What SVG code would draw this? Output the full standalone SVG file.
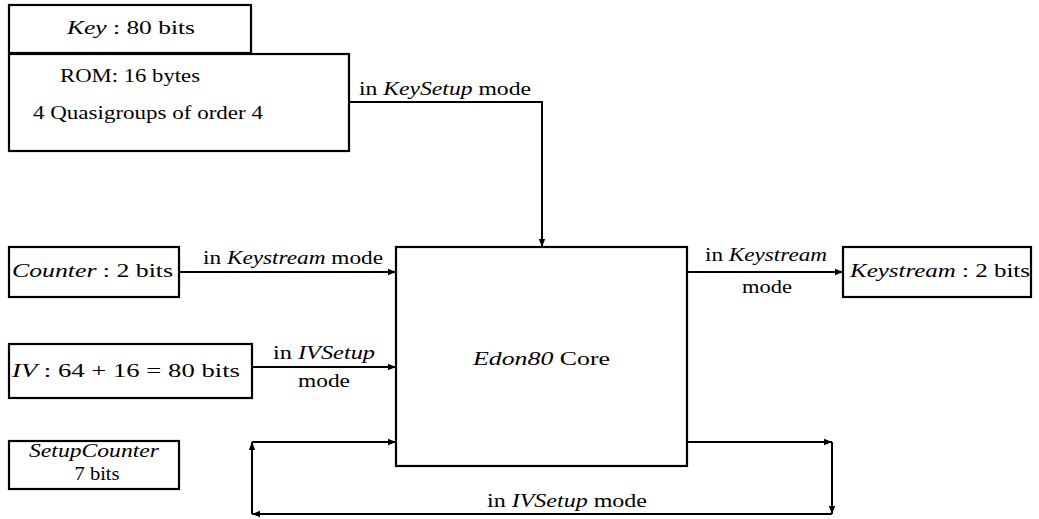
<svg xmlns="http://www.w3.org/2000/svg" width="1039" height="519" viewBox="0 0 1039 519">
<style>
.box{fill:#fff;stroke:#000;stroke-width:2.2}
.ln{fill:none;stroke:#000;stroke-width:2}
.t{font-family:'Liberation Serif','DejaVu Serif',serif;font-size:18.5px;fill:#000}
.i{font-style:italic}
</style>
<defs>
<marker id="ah" viewBox="0 0 10 10" refX="10" refY="5" markerWidth="4" markerHeight="4" orient="auto" markerUnits="strokeWidth">
<path d="M0,1 L10,5 L0,9 z" fill="#000"/>
</marker>
</defs>
<rect width="1039" height="519" fill="#fff"/>
<g id="key">
<rect class="box" x="9" y="5" width="242" height="48"/>
<text class="t" x="67" y="34" textLength="128" lengthAdjust="spacingAndGlyphs"><tspan class="i">Key</tspan> :  80 bits</text>
</g>
<g id="rom">
<rect class="box" x="9" y="54" width="340" height="97"/>
<text class="t" x="60" y="82" textLength="140" lengthAdjust="spacingAndGlyphs">ROM: 16 bytes</text>
<text class="t" x="33" y="119" textLength="230" lengthAdjust="spacingAndGlyphs">4 Quasigroups of order 4</text>
</g>
<g id="counter">
<rect class="box" x="9" y="247" width="170" height="50"/>
<text class="t" x="12" y="277" textLength="161" lengthAdjust="spacingAndGlyphs"><tspan class="i">Counter</tspan> :  2 bits</text>
</g>
<g id="iv">
<rect class="box" x="9" y="344" width="243" height="54"/>
<text class="t" x="12" y="377" textLength="228" lengthAdjust="spacingAndGlyphs"><tspan class="i">IV</tspan> :  64 + 16 = 80 bits</text>
</g>
<g id="setupcounter">
<rect class="box" x="9" y="441" width="170" height="48"/>
<text class="t i" x="94" y="457" text-anchor="middle" textLength="130" lengthAdjust="spacingAndGlyphs">SetupCounter</text>
<text class="t" x="97" y="480" text-anchor="middle" textLength="45" lengthAdjust="spacingAndGlyphs">7 bits</text>
</g>
<g id="core">
<rect class="box" x="396" y="247" width="291" height="219"/>
<text class="t" x="473" y="365" textLength="137" lengthAdjust="spacingAndGlyphs"><tspan class="i">Edon80</tspan> Core</text>
</g>
<g id="keystream">
<rect class="box" x="843" y="247" width="188" height="50"/>
<text class="t" x="850" y="277" textLength="180" lengthAdjust="spacingAndGlyphs"><tspan class="i">Keystream</tspan> :  2 bits</text>
</g>
<g id="connectors">
<polyline class="ln" points="349,102 542,102 542,247" marker-end="url(#ah)"/>
<line class="ln" x1="179" y1="272" x2="396" y2="272" marker-end="url(#ah)"/>
<line class="ln" x1="252" y1="367" x2="396" y2="367" marker-end="url(#ah)"/>
<line class="ln" x1="687" y1="272" x2="843" y2="272" marker-end="url(#ah)"/>
<line class="ln" x1="687" y1="442" x2="832" y2="442" marker-end="url(#ah)"/>
<line class="ln" x1="832" y1="442" x2="832" y2="514" marker-end="url(#ah)"/>
<line class="ln" x1="832" y1="514" x2="252" y2="514" marker-end="url(#ah)"/>
<line class="ln" x1="252" y1="514" x2="252" y2="442" marker-end="url(#ah)"/>
<line class="ln" x1="252" y1="442" x2="396" y2="442" marker-end="url(#ah)"/>
<text class="t" x="359" y="95" textLength="172" lengthAdjust="spacingAndGlyphs">in <tspan class="i">KeySetup</tspan> mode</text>
<text class="t" x="203" y="264" textLength="180" lengthAdjust="spacingAndGlyphs">in <tspan class="i">Keystream</tspan> mode</text>
<text class="t" x="273" y="359" textLength="102" lengthAdjust="spacingAndGlyphs">in <tspan class="i">IVSetup</tspan></text>
<text class="t" x="324" y="387" text-anchor="middle" textLength="52" lengthAdjust="spacingAndGlyphs">mode</text>
<text class="t" x="705" y="261" textLength="122" lengthAdjust="spacingAndGlyphs">in <tspan class="i">Keystream</tspan></text>
<text class="t" x="767" y="293" text-anchor="middle" textLength="50" lengthAdjust="spacingAndGlyphs">mode</text>
<text class="t" x="487" y="507" textLength="160" lengthAdjust="spacingAndGlyphs">in <tspan class="i">IVSetup</tspan> mode</text>
</g>
</svg>
